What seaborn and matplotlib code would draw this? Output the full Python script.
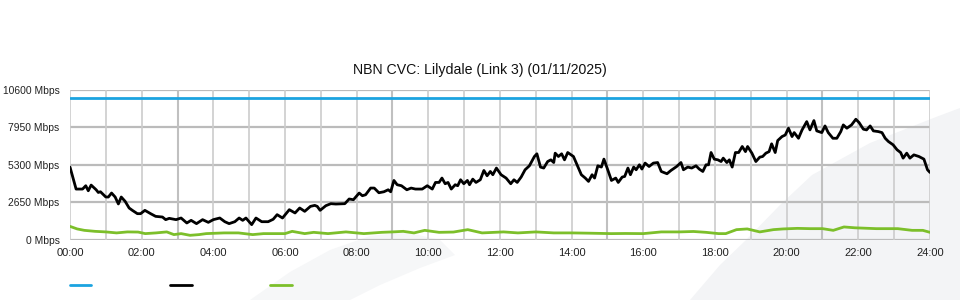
import numpy as np
import pandas as pd
import matplotlib
matplotlib.use("Agg")
import matplotlib.pyplot as plt
from matplotlib.patches import Polygon
import seaborn as sns

# ---------------- data ----------------
title = "NBN CVC: Lilydale (Link 3) (01/11/2025)"
series_names = ["Capacity", "Traffic", "Other"]
series_colors = ["#1ba3e0", "#000000", "#7cbf2a"]

cap_hours = [0, 24]
cap_mbps = [10000, 10000]

traffic_hours = [
    0.00, 0.17, 0.35, 0.44, 0.51, 0.59, 0.73, 0.79, 0.85, 1.00, 1.07, 1.16, 1.26, 1.35, 1.43, 1.54,
    1.65, 1.74, 1.88, 1.97, 2.09, 2.25, 2.39, 2.58, 2.67, 2.77, 2.96, 3.10, 3.26, 3.38, 3.53, 3.70,
    3.86, 4.00, 4.18, 4.32, 4.44, 4.60, 4.72, 4.82, 4.91, 5.07, 5.19, 5.35, 5.53, 5.67, 5.78, 5.93,
    6.12, 6.28, 6.41, 6.55, 6.71, 6.83, 6.90, 6.98, 7.14, 7.28, 7.42, 7.67, 7.79, 7.91, 8.07, 8.16,
    8.25, 8.39, 8.49, 8.62, 8.76, 8.88, 8.95, 9.04, 9.13, 9.25, 9.40, 9.52, 9.64, 9.83, 9.97, 10.11,
    10.20, 10.30, 10.38, 10.47, 10.55, 10.64, 10.75, 10.82, 10.90, 10.99, 11.09, 11.15, 11.24, 11.33,
    11.45, 11.55, 11.64, 11.73, 11.80, 11.90, 12.03, 12.17, 12.30, 12.39, 12.48, 12.59, 12.70, 12.82,
    12.96, 13.03, 13.13, 13.22, 13.33, 13.42, 13.50, 13.54, 13.63, 13.72, 13.80, 13.89, 14.05, 14.15,
    14.27, 14.38, 14.47, 14.57, 14.64, 14.73, 14.83, 14.90, 14.99, 15.11, 15.23, 15.30, 15.41, 15.48,
    15.57, 15.64, 15.73, 15.80, 15.89, 15.96, 16.05, 16.16, 16.28, 16.40, 16.50, 16.66, 16.77, 16.93,
    17.05, 17.12, 17.24, 17.35, 17.47, 17.56, 17.66, 17.75, 17.82, 17.89, 17.98, 18.08, 18.17, 18.23,
    18.33, 18.40, 18.48, 18.57, 18.66, 18.76, 18.85, 18.91, 19.03, 19.14, 19.25, 19.33, 19.42, 19.51,
    19.58, 19.68, 19.75, 19.87, 19.96, 20.05, 20.15, 20.21, 20.33, 20.43, 20.56, 20.65, 20.76, 20.84,
    20.98, 21.07, 21.16, 21.29, 21.40, 21.51, 21.58, 21.68, 21.81, 21.93, 22.02, 22.14, 22.23, 22.33,
    22.42, 22.56, 22.66, 22.75, 22.84, 22.97, 23.08, 23.18, 23.25, 23.35, 23.44, 23.55, 23.69, 23.83,
    23.93, 24.00,
]
traffic_mbps = [
    5140, 3590, 3590, 3825, 3470, 3870, 3540, 3350, 3400, 3030, 3030, 3310, 3030, 2540, 3030, 2720,
    2255, 2090, 1856, 1856, 2090, 1856, 1666, 1620, 1434, 1526, 1434, 1550, 1200, 1385, 1153, 1434,
    1244, 1434, 1550, 1290, 1153, 1290, 1550, 1385, 1550, 1083, 1550, 1290, 1290, 1460, 1786, 1550,
    2137, 1905, 2256, 2020, 2370, 2440, 2370, 2090, 2418, 2560, 2535, 2560, 2890, 2840, 3310, 3120,
    3190, 3660, 3660, 3330, 3400, 3540, 3400, 4197, 3895, 3825, 3540, 3660, 3590, 3590, 3825, 3590,
    4057, 4057, 4365, 3965, 4057, 3590, 3895, 3825, 4246, 3965, 4197, 3895, 4290, 4057,
    4246, 4900, 4527, 4830, 4600, 5070, 4600, 4365, 3965, 4246, 4057, 4436, 4950, 5230,
    5885, 6075, 5140, 5070, 5530, 5650, 5460, 6120, 5885, 6075, 5650, 6165, 5885, 5300,
    4600, 4365, 4130, 4600, 4365, 5230, 5140, 5700, 5070, 4197, 4365, 4057, 4436, 4480,
    5070, 4600, 5140, 4950, 5300, 5000, 5420, 5180, 5420, 5460, 4830, 4670, 4900, 5180,
    5460, 4950, 5140, 5070, 5230, 5000, 4830, 5300, 5300, 6165, 5700, 5650, 5530, 5770,
    5460, 5650, 5140, 6165, 6165, 6590, 6230, 6590, 6120, 5530, 5840, 5885, 6120, 6230,
    6780, 6165, 7010, 7290, 7400, 7880, 7290, 7570, 7170, 7760, 8345, 7760, 8415, 7690,
    7570, 8040, 7570, 7170, 7170, 7640, 8110, 7880, 8110, 8510, 8280, 7810, 7760, 8040,
    7690, 7640, 7570, 7170, 6940, 6710, 6360, 6165, 5770, 6120, 5770, 6000, 5885, 5700,
    4950, 4760,
]

other_hours = [
    0.0, 0.2, 0.4, 0.7, 1.0, 1.3, 1.6, 1.9, 2.1, 2.4, 2.7, 2.9, 3.1, 3.35, 3.6, 3.8, 4.3, 4.7,
    5.1, 5.4, 5.7, 6.0, 6.2, 6.55, 6.8, 7.2, 7.7, 8.2, 8.7, 9.0, 9.3, 9.6, 9.9, 10.3, 10.7, 11.1,
    11.5, 12.1, 12.5, 13.0, 13.5, 14.0, 14.5, 15.1, 15.5, 16.0, 16.5, 17.0, 17.4, 17.75, 18.1,
    18.3, 18.6, 18.9, 19.25, 19.63, 19.9, 20.3, 20.65, 21.0, 21.3, 21.6, 21.9, 22.5, 23.1, 23.5,
    23.8, 24.0,
]
other_mbps = [
    960, 780, 680, 610, 570, 500, 570, 560, 450, 500, 570, 380, 450, 330, 380, 450, 500, 500,
    380, 450, 450, 450, 610, 450, 540, 450, 570, 450, 540, 570, 610, 500, 680, 540, 560, 730,
    500, 570, 500, 570, 500, 500, 480, 450, 460, 450, 570, 570, 600, 540, 450,
    450, 730, 780, 570, 730, 780, 820, 800, 800, 680, 920, 860, 800, 800, 680,
    680, 540,
]

y_ticks = [0, 2650, 5300, 7950, 10600]
y_tick_labels = [f"{v} Mbps" for v in y_ticks]
x_ticks = list(range(0, 25, 2))
x_tick_labels = [f"{h:02d}:00" for h in x_ticks]

# ---------------- build frame ----------------
df = pd.concat([
    pd.DataFrame({"hour": cap_hours, "mbps": cap_mbps, "series": series_names[0]}),
    pd.DataFrame({"hour": traffic_hours, "mbps": traffic_mbps, "series": series_names[1]}),
    pd.DataFrame({"hour": other_hours, "mbps": other_mbps, "series": series_names[2]}),
], ignore_index=True)

sns.set_theme(style="white")
plt.rcParams["font.family"] = ["Liberation Sans", "DejaVu Sans"]

W, H = 960, 300
fig = plt.figure(figsize=(9.6, 3.0), dpi=100)
fig.patch.set_facecolor("white")

# faint background watermark shapes (figure pixel coords -> fraction)
def fpoly(pts, color):
    xy = [(x / W, 1 - y / H) for x, y in pts]
    fig.patches.append(Polygon(xy, closed=True, transform=fig.transFigure,
                               facecolor=color, edgecolor="none", zorder=-10))

fpoly([(690, 300), (720, 265), (746, 240), (780, 205), (812, 175), (870, 143),
       (936, 117), (960, 108), (960, 300)], "#f3f4f6")
fpoly([(250, 300), (290, 272), (330, 250), (370, 236), (405, 232), (440, 240),
       (455, 255), (420, 268), (380, 285), (350, 300)], "#f6f7f8")

ax = fig.add_axes([70 / W, 1 - 240 / H, 860 / W, (240 - 89.6) / H])
ax.set_facecolor("none")

sns.lineplot(data=df, x="hour", y="mbps", hue="series", hue_order=series_names,
             palette=series_colors, estimator=None, sort=False, linewidth=2.0,
             ax=ax, legend=True, zorder=3)

ax.set_xlim(0, 24)
ax.set_ylim(0, 10600)
ax.set_xticks(x_ticks)
ax.set_xticklabels(x_tick_labels)
ax.set_yticks(y_ticks)
ax.set_yticklabels(y_tick_labels)
ax.set_xlabel("")
ax.set_ylabel("")
ax.tick_params(axis="both", length=0, colors="#222222")
ax.tick_params(axis="y", pad=7.5, labelsize=7.4)
ax.tick_params(axis="x", pad=6, labelsize=8)

for s in ax.spines.values():
    s.set_visible(False)

# grid
for v in y_ticks:
    ax.axhline(v, color="#bbbbbb", lw=1.6, zorder=1)
for h in range(0, 25):
    c = "#c0c0c0" if h in (3, 9, 15, 21) else "#cccccc"
    lw = 1.5 if h in (3, 9, 15, 21) else 1.2
    ax.axvline(h, color=c, lw=lw, zorder=1)

fig.text(0.5, 1 - 70 / H, title, fontsize=10.2, color="#111111",
         ha="center", va="center")

# legend: colored segments without text
handles, labels = ax.get_legend_handles_labels()
ax.legend(handles, ["", "", ""], ncol=3, frameon=False,
          loc="center left", bbox_to_anchor=(70 / W, 1 - 285 / H),
          bbox_transform=fig.transFigure, fontsize=7, handlelength=2.2,
          handletextpad=0.0, columnspacing=8.1, borderpad=0, borderaxespad=0)

fig.savefig("out.png", dpi=100)
